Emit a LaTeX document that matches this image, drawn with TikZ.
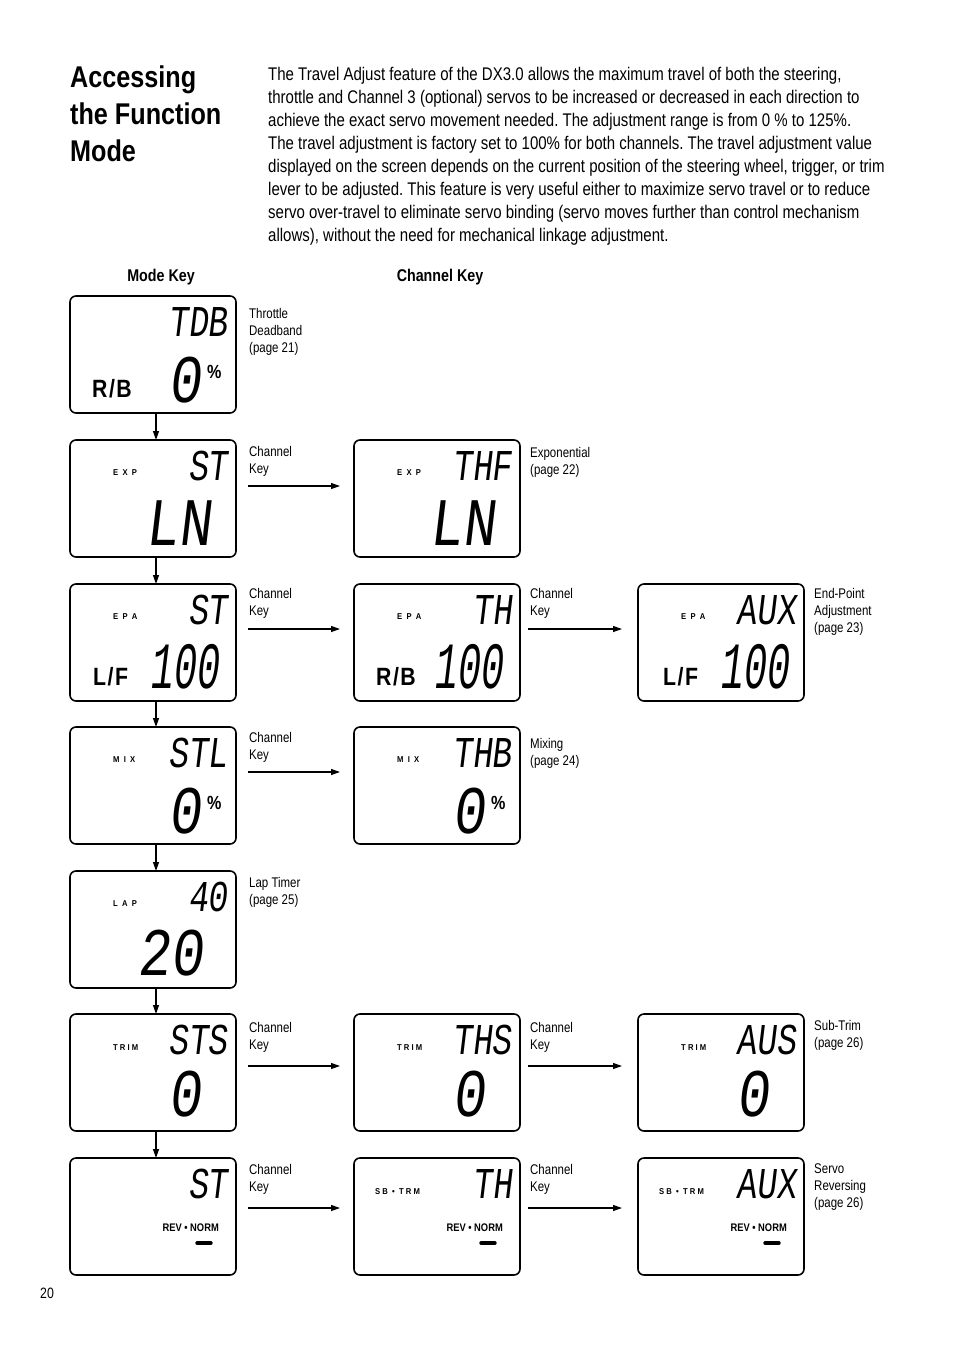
\documentclass[tikz,border=0pt]{standalone}
\usepackage{fontspec}
\setmainfont{Liberation Sans}[FakeStretch=0.82]
\newfontfamily\headfont{Liberation Sans}[FakeStretch=0.84]
\newfontfamily\lcdfont{Liberation Mono}[FakeSlant=0.12,FakeStretch=0.75]
\newfontfamily\lcdwide{Liberation Mono}[FakeSlant=0.12,FakeStretch=0.8]
\newfontfamily\lcdnarrow{Liberation Mono}[FakeSlant=0.12,FakeStretch=0.58]
\newfontfamily\tagfont{Liberation Sans Bold}[FakeStretch=0.9,LetterSpace=25]
\newfontfamily\revfont{Liberation Sans Bold}[FakeStretch=0.85]
\usetikzlibrary{arrows.meta}
\frenchspacing
\tikzset{
  lcdbox/.style={draw, line width=1.6pt, rounded corners=6pt, anchor=north west,
    minimum width=166pt, minimum height=117pt, inner sep=0pt, outer sep=0pt},
  lcdtop/.style={anchor=base east, inner sep=0pt, font=\lcdfont\fontsize{44}{44}\selectfont},
  lcdval/.style={anchor=base east, inner sep=0pt, font=\lcdwide\fontsize{68}{68}\selectfont},
  lcdnum/.style={anchor=base east, inner sep=0pt, font=\lcdnarrow\fontsize{66}{66}\selectfont},
  lcdtag/.style={anchor=base west, inner sep=0pt, font=\tagfont\fontsize{8.5}{8.5}\selectfont},
  lcdpct/.style={anchor=base west, inner sep=0pt, font=\revfont\fontsize{19}{19}\selectfont},
  lcdside/.style={anchor=base west, inner sep=0pt, font=\revfont\fontsize{25}{25}\selectfont},
  lcdrev/.style={anchor=base east, inner sep=0pt, font=\revfont\fontsize{11}{11}\selectfont},
  lcddash/.style={line width=3.4pt, line cap=round},
  sidenote/.style={anchor=north west, inner sep=0pt, align=left, font=\fontsize{14}{17}\selectfont},
  modearrow/.style={line width=1.3pt, -{Triangle[length=9pt,width=6pt]}},
  chanarrow/.style={line width=1.2pt, -{Triangle[length=9pt,width=6pt]}}
}
\begin{document}
\begin{tikzpicture}[x=1pt,y=-1pt]
\useasboundingbox (0,0) rectangle (954,1356);
\fill[white] (0,0) rectangle (954,1356);
\node[anchor=north west, inner sep=0pt, align=left, font=\headfont\bfseries\fontsize{30}{37}\selectfont] (title) at (70,66) {Accessing\\the Function\\Mode};
\node[anchor=north west, inner sep=0pt, align=left, font=\fontsize{18.3}{23}\selectfont] (intro) at (268,67) {The Travel Adjust feature of the DX3.0 allows the maximum travel of both the steering,\\throttle and Channel 3 (optional) servos to be increased or decreased in each direction to\\achieve the exact servo movement needed. The adjustment range is from 0 \% to 125\%.\\The travel adjustment is factory set to 100\% for both channels. The travel adjustment value\\displayed on the screen depends on the current position of the steering wheel, trigger, or trim\\lever to be adjusted. This feature is very useful either to maximize servo travel or to reduce\\servo over-travel to eliminate servo binding (servo moves further than control mechanism\\allows), without the need for mechanical linkage adjustment.};
\node[anchor=base, inner sep=0pt, font=\headfont\bfseries\fontsize{17}{17}\selectfont] (modekey) at (161,281) {Mode Key};
\node[anchor=base, inner sep=0pt, font=\headfont\bfseries\fontsize{17}{17}\selectfont] (chankey) at (440,281) {Channel Key};
\begin{scope}[shift={(70,296)}]
\node[lcdbox] (tdb) at (0,0) {};
\node[lcdtop] (tdb-top) at (158,40) {TDB};
\node[lcdval] (tdb-val) at (131,106) {0};
\node[lcdpct] (tdb-pct) at (137,82) {\%};
\node[lcdside] (tdb-side) at (22,101) {R\kern1.5pt/\kern1.5pt B};
\end{scope}
\begin{scope}[shift={(70,440)}]
\node[lcdbox] (expst) at (0,0) {};
\node[lcdtag] (expst-tag) at (43,35) {E X P};
\node[lcdtop] (expst-top) at (158,40) {ST};
\node[lcdval] (expst-val) at (141,105) {LN};
\end{scope}
\begin{scope}[shift={(354,440)}]
\node[lcdbox] (expthf) at (0,0) {};
\node[lcdtag] (expthf-tag) at (43,35) {E X P};
\node[lcdtop] (expthf-top) at (158,40) {THF};
\node[lcdval] (expthf-val) at (141,105) {LN};
\end{scope}
\begin{scope}[shift={(70,584)}]
\node[lcdbox] (epast) at (0,0) {};
\node[lcdtag] (epast-tag) at (43,35) {E P A};
\node[lcdtop] (epast-top) at (158,40) {ST};
\node[lcdnum] (epast-val) at (149,104) {100};
\node[lcdside] (epast-side) at (23,101) {L\kern1.5pt/\kern1.5pt F};
\end{scope}
\begin{scope}[shift={(354,584)}]
\node[lcdbox] (epath) at (0,0) {};
\node[lcdtag] (epath-tag) at (43,35) {E P A};
\node[lcdtop] (epath-top) at (158,40) {TH};
\node[lcdnum] (epath-val) at (149,104) {100};
\node[lcdside] (epath-side) at (22,101) {R\kern1.5pt/\kern1.5pt B};
\end{scope}
\begin{scope}[shift={(638,584)}]
\node[lcdbox] (epaaux) at (0,0) {};
\node[lcdtag] (epaaux-tag) at (43,35) {E P A};
\node[lcdtop] (epaaux-top) at (158,40) {AUX};
\node[lcdnum] (epaaux-val) at (151,104) {100};
\node[lcdside] (epaaux-side) at (25,101) {L\kern1.5pt/\kern1.5pt F};
\end{scope}
\begin{scope}[shift={(70,727)}]
\node[lcdbox] (mixstl) at (0,0) {};
\node[lcdtag] (mixstl-tag) at (43,35) {M I X};
\node[lcdtop] (mixstl-top) at (158,40) {STL};
\node[lcdval] (mixstl-val) at (131,106) {0};
\node[lcdpct] (mixstl-pct) at (137,82) {\%};
\end{scope}
\begin{scope}[shift={(354,727)}]
\node[lcdbox] (mixthb) at (0,0) {};
\node[lcdtag] (mixthb-tag) at (43,35) {M I X};
\node[lcdtop] (mixthb-top) at (158,40) {THB};
\node[lcdval] (mixthb-val) at (131,106) {0};
\node[lcdpct] (mixthb-pct) at (137,82) {\%};
\end{scope}
\begin{scope}[shift={(70,871)}]
\node[lcdbox] (lap) at (0,0) {};
\node[lcdtag] (lap-tag) at (43,35) {L A P};
\node[lcdtop] (lap-top) at (158,40) {40};
\node[lcdval] (lap-val) at (133,104) {20};
\end{scope}
\begin{scope}[shift={(70,1014)}]
\node[lcdbox] (trimsts) at (0,0) {};
\node[lcdtag] (trimsts-tag) at (43,36) {TRIM};
\node[lcdtop] (trimsts-top) at (158,40) {STS};
\node[lcdval] (trimsts-val) at (131,102) {0};
\end{scope}
\begin{scope}[shift={(354,1014)}]
\node[lcdbox] (trimths) at (0,0) {};
\node[lcdtag] (trimths-tag) at (43,36) {TRIM};
\node[lcdtop] (trimths-top) at (158,40) {THS};
\node[lcdval] (trimths-val) at (131,102) {0};
\end{scope}
\begin{scope}[shift={(638,1014)}]
\node[lcdbox] (trimaus) at (0,0) {};
\node[lcdtag] (trimaus-tag) at (43,36) {TRIM};
\node[lcdtop] (trimaus-top) at (158,40) {AUS};
\node[lcdval] (trimaus-val) at (131,102) {0};
\end{scope}
\begin{scope}[shift={(70,1158)}]
\node[lcdbox] (revst) at (0,0) {};
\node[lcdtop] (revst-top) at (158,40) {ST};
\node[lcdrev] (revst-rev) at (149,73) {REV • NORM};
\draw[lcddash] (127,85) -- (141,85);
\end{scope}
\begin{scope}[shift={(354,1158)}]
\node[lcdbox] (revth) at (0,0) {};
\node[lcdtag] (revth-tag) at (21,36) {SB • TRM};
\node[lcdtop] (revth-top) at (158,40) {TH};
\node[lcdrev] (revth-rev) at (149,73) {REV • NORM};
\draw[lcddash] (127,85) -- (141,85);
\end{scope}
\begin{scope}[shift={(638,1158)}]
\node[lcdbox] (revaux) at (0,0) {};
\node[lcdtag] (revaux-tag) at (21,36) {SB • TRM};
\node[lcdtop] (revaux-top) at (158,40) {AUX};
\node[lcdrev] (revaux-rev) at (149,73) {REV • NORM};
\draw[lcddash] (127,85) -- (141,85);
\end{scope}
\draw[modearrow] ([xshift=3pt]tdb.south) -- ([xshift=3pt]expst.north);
\draw[modearrow] ([xshift=3pt]expst.south) -- ([xshift=3pt]epast.north);
\draw[modearrow] ([xshift=3pt]epast.south) -- ([xshift=3pt]mixstl.north);
\draw[modearrow] ([xshift=3pt]mixstl.south) -- ([xshift=3pt]lap.north);
\draw[modearrow] ([xshift=3pt]lap.south) -- ([xshift=3pt]trimsts.north);
\draw[modearrow] ([xshift=3pt]trimsts.south) -- ([xshift=3pt]revst.north);
\draw[chanarrow] ([xshift=12pt,yshift=-46pt]expst.north east) -- ([xshift=-14pt,yshift=-46pt]expthf.north west);
\draw[chanarrow] ([xshift=12pt,yshift=-45pt]epast.north east) -- ([xshift=-14pt,yshift=-45pt]epath.north west);
\draw[chanarrow] ([xshift=8pt,yshift=-45pt]epath.north east) -- ([xshift=-16pt,yshift=-45pt]epaaux.north west);
\draw[chanarrow] ([xshift=12pt,yshift=-45pt]mixstl.north east) -- ([xshift=-14pt,yshift=-45pt]mixthb.north west);
\draw[chanarrow] ([xshift=12pt,yshift=-52pt]trimsts.north east) -- ([xshift=-14pt,yshift=-52pt]trimths.north west);
\draw[chanarrow] ([xshift=8pt,yshift=-52pt]trimths.north east) -- ([xshift=-16pt,yshift=-52pt]trimaus.north west);
\draw[chanarrow] ([xshift=12pt,yshift=-50pt]revst.north east) -- ([xshift=-14pt,yshift=-50pt]revth.north west);
\draw[chanarrow] ([xshift=8pt,yshift=-50pt]revth.north east) -- ([xshift=-16pt,yshift=-50pt]revaux.north west);
\node[sidenote] (tdb-note) at ([xshift=13pt,yshift=-12pt]tdb.north east) {Throttle\\Deadband\\(page 21)};
\node[sidenote] (expst-note) at ([xshift=13pt,yshift=-6pt]expst.north east) {Channel\\Key};
\node[sidenote] (expthf-note) at ([xshift=10pt,yshift=-7pt]expthf.north east) {Exponential\\(page 22)};
\node[sidenote] (epast-note) at ([xshift=13pt,yshift=-4pt]epast.north east) {Channel\\Key};
\node[sidenote] (epath-note) at ([xshift=10pt,yshift=-4pt]epath.north east) {Channel\\Key};
\node[sidenote] (epaaux-note) at ([xshift=10pt,yshift=-4pt]epaaux.north east) {End-Point\\Adjustment\\(page 23)};
\node[sidenote] (mixstl-note) at ([xshift=13pt,yshift=-5pt]mixstl.north east) {Channel\\Key};
\node[sidenote] (mixthb-note) at ([xshift=10pt,yshift=-11pt]mixthb.north east) {Mixing\\(page 24)};
\node[sidenote] (lap-note) at ([xshift=13pt,yshift=-6pt]lap.north east) {Lap Timer\\(page 25)};
\node[sidenote] (trimsts-note) at ([xshift=13pt,yshift=-8pt]trimsts.north east) {Channel\\Key};
\node[sidenote] (trimths-note) at ([xshift=10pt,yshift=-8pt]trimths.north east) {Channel\\Key};
\node[sidenote] (trimaus-note) at ([xshift=10pt,yshift=-6pt]trimaus.north east) {Sub-Trim\\(page 26)};
\node[sidenote] (revst-note) at ([xshift=13pt,yshift=-6pt]revst.north east) {Channel\\Key};
\node[sidenote] (revth-note) at ([xshift=10pt,yshift=-6pt]revth.north east) {Channel\\Key};
\node[sidenote] (revaux-note) at ([xshift=10pt,yshift=-6pt]revaux.north east) {Servo\\Reversing\\(page 26)};
\node[anchor=base west, inner sep=0pt, font=\fontsize{15}{15}\selectfont] (pageno) at (40,1298) {20};
\end{tikzpicture}
\end{document}
